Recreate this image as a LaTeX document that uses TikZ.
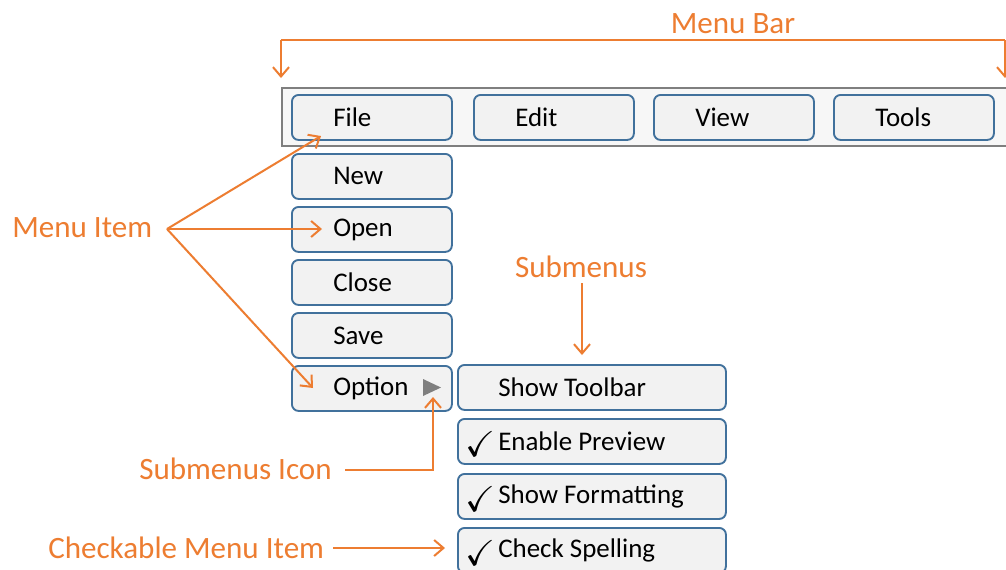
\documentclass[tikz,border=0pt]{standalone}
\usepackage{fontspec}
\usepackage{amssymb}
\setmainfont{Carlito}
\usetikzlibrary{arrows.meta,calc}
\definecolor{org}{HTML}{ED7D31}
\definecolor{bord}{HTML}{41719C}
\definecolor{boxfill}{HTML}{F2F2F2}
\definecolor{barbord}{HTML}{7F7F7F}
\begin{document}
\begin{tikzpicture}[x=0.75pt,y=-0.75pt,
  mbox/.style={draw=bord,line width=1.4pt,fill=boxfill,rounded corners=5pt,
    minimum width=120pt,minimum height=33.75pt,anchor=north west,inner sep=0pt},
  sbox/.style={mbox,minimum width=201pt},
  btxt/.style={anchor=west,inner sep=0pt,font=\fontsize{20.2}{22}\selectfont},
  chk/.style={anchor=west,inner sep=0pt,font=\fontsize{27}{28}\selectfont},
  lbl/.style={text=org,inner sep=0pt,font=\fontsize{23.3}{26}\selectfont},
  arr/.style={draw=org,line width=1.5pt,-{Straight Barb[length=7pt,width=12pt,line width=1.5pt]}},
  ln/.style={draw=org,line width=1.5pt}]
\clip (0,0) rectangle (1006,569);
\fill[white] (0,0) rectangle (1006,569);
% menu bar
\node[draw=barbord,line width=1.5pt,fill=white!97!black,anchor=north west,
  minimum width=560pt,minimum height=43.5pt,inner sep=0pt] (bar) at (281,87) {};
\node[mbox] (file) at (291,94) {};
\node[mbox] (edit) at (473,94) {};
\node[mbox] (view) at (653,94) {};
\node[mbox] (tools) at (833,94) {};
\node[btxt] (fileT) at ([xshift=31.5pt]file.west) {File};
\node[btxt] (editT) at ([xshift=31.5pt]edit.west) {Edit};
\node[btxt] (viewT) at ([xshift=31.5pt]view.west) {View};
\node[btxt] (toolsT) at ([xshift=31.5pt]tools.west) {Tools};
% file menu
\node[mbox] (new) at (291,153) {};
\node[mbox] (open) at (291,206) {};
\node[mbox] (close) at (291,259) {};
\node[mbox] (save) at (291,312) {};
\node[mbox] (option) at (291,365) {};
\node[btxt] (newT) at ([xshift=31.5pt]new.west) {New};
\node[btxt] (openT) at ([xshift=31.5pt]open.west) {Open};
\node[btxt] (closeT) at ([xshift=31.5pt]close.west) {Close};
\node[btxt] (saveT) at ([xshift=31.5pt]save.west) {Save};
\node[btxt] (optionT) at ([xshift=31.5pt]option.west) {Option};
\fill[barbord] (423,379) -- (441,387.5) -- (423,396) -- cycle;
\coordinate (tri) at (433,397);
% submenu
\node[sbox] (tb) at (457,364) {};
\node[sbox] (ep) at (457,418) {};
\node[sbox] (sf) at (457,473) {};
\node[sbox] (cs) at (457,527) {};
\node[btxt] (tbT) at ([xshift=30.75pt]tb.west) {Show Toolbar};
\node[btxt] (epT) at ([xshift=30.75pt]ep.west) {Enable Preview};
\node[btxt] (sfT) at ([xshift=30.75pt]sf.west) {Show Formatting};
\node[btxt] (csT) at ([xshift=30.75pt]cs.west) {Check Spelling};
\node[chk] (epC) at ([xshift=6.5pt,yshift=-2pt]ep.west) {$\checkmark$};
\node[chk] (sfC) at ([xshift=6.5pt,yshift=-2pt]sf.west) {$\checkmark$};
\node[chk] (csC) at ([xshift=6.5pt,yshift=-2pt]cs.west) {$\checkmark$};
% labels
\node[lbl] (mbar) at (733,24) {Menu Bar};
\coordinate (bl) at (281,40);
\coordinate (br) at (1005,40);
\coordinate (blt) at (281,78);
\coordinate (brt) at (1005,78);
\draw[ln] (bl) -- (br);
\draw[arr] (bl) -- (blt);
\draw[arr] (br) -- (brt);
\node[lbl,anchor=west] (mitem) at (12,228) {Menu Item};
\coordinate (mi) at (167,229);
\coordinate (miF) at (321,136);
\coordinate (miO) at (322,229);
\coordinate (miP) at (313,388);
\draw[arr] (mi) -- (miF);
\draw[arr] (mi) -- (miO);
\draw[arr] (mi) -- (miP);
\node[lbl] (subm) at (581,267) {Submenus};
\coordinate (smA) at (582,283);
\coordinate (smB) at (582,355);
\draw[arr] (smA) -- (smB);
\node[lbl,anchor=west] (subi) at (139,469) {Submenus Icon};
\coordinate (siA) at (345,470);
\coordinate (siB) at (433,470);
\draw[arr] (siA) -- (siB) -- (tri);
\node[lbl,anchor=west] (chk) at (48,548) {Checkable Menu Item};
\coordinate (ckA) at (333,548);
\coordinate (ckB) at (445,548);
\draw[arr] (ckA) -- (ckB);
\end{tikzpicture}
\end{document}
